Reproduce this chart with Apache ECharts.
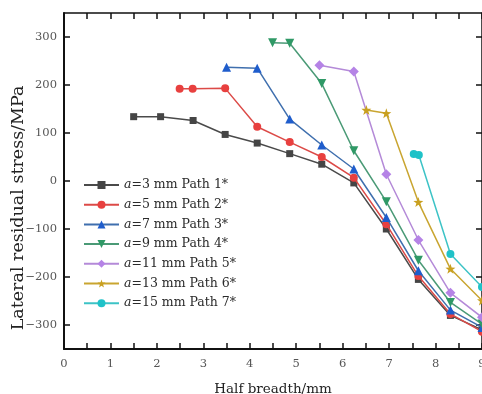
<!DOCTYPE html>
<html>
<head>
<meta charset="utf-8">
<script src="https://cdn.jsdelivr.net/npm/echarts@6/dist/echarts.min.js"></script>
<style>
  html, body { margin: 0; padding: 0; background: #ffffff; overflow: hidden; }
  #chart { width: 482px; height: 394px; }
</style>
</head>
<body>
<div id="chart"></div>
<script>
// Lateral residual stress along the half breadth, one path per groove depth a
const seriesNames = [
  'a=3 mm Path 1*', 'a=5 mm Path 2*', 'a=7 mm Path 3*', 'a=9 mm Path 4*',
  'a=11 mm Path 5*', 'a=13 mm Path 6*', 'a=15 mm Path 7*'
];

const path1X = [1.50, 2.08, 2.78, 3.47, 4.16, 4.86, 5.55, 6.24, 6.94, 7.63, 8.32, 9.00];
const path1Y = [134, 134, 126, 97, 79, 57, 35, -4, -100, -205, -280, -310];

const path2X = [2.49, 2.77, 3.47, 4.16, 4.86, 5.55, 6.24, 6.94, 7.63, 8.32, 9.00];
const path2Y = [192, 192, 193, 113, 81, 50, 7, -90, -198, -277, -314];

const path3X = [3.50, 4.16, 4.86, 5.55, 6.24, 6.94, 7.63, 8.32, 9.00];
const path3Y = [237, 235, 129, 75, 25, -76, -187, -269, -305];

const path4X = [4.49, 4.86, 5.55, 6.24, 6.94, 7.63, 8.32, 9.00];
const path4Y = [288, 287, 203, 63, -43, -165, -253, -298];

const path5X = [5.50, 6.24, 6.94, 7.63, 8.32, 9.00];
const path5Y = [241, 228, 14, -123, -233, -284];

const path6X = [6.51, 6.94, 7.63, 8.32, 9.00];
const path6Y = [148, 141, -44, -183, -249];

const path7X = [7.53, 7.64, 8.32, 9.00];
const path7Y = [56, 54, -152, -221];

const yTickValues = [-300, -200, -100, 0, 100, 200, 300];

const xsList = [path1X, path2X, path3X, path4X, path5X, path6X, path7X];
const ysList = [path1Y, path2Y, path3Y, path4Y, path5Y, path6Y, path7Y];

const starPath = 'path://M0,-10L2.35,-3.24L9.51,-3.09L3.8,1.24L5.88,8.09L0,4L-5.88,8.09L-3.8,1.24L-9.51,-3.09L-2.35,-3.24Z';

const styles = [
  { line: '#4a4a4a', mark: '#454545', symbol: 'rect', size: 7, rotate: 0 },
  { line: '#dc4a47', mark: '#e8403f', symbol: 'circle', size: 8, rotate: 0 },
  { line: '#3f6fae', mark: '#1f5dcc', symbol: 'triangle', size: 9, rotate: 0 },
  { line: '#4a9a76', mark: '#2f9966', symbol: 'triangle', size: 9, rotate: 180 },
  { line: '#b48ad8', mark: '#b583e6', symbol: 'diamond', size: 10, rotate: 0 },
  { line: '#c9a530', mark: '#c9a020', symbol: starPath, size: 10, rotate: 0 },
  { line: '#3cc3c6', mark: '#1fc2c8', symbol: 'circle', size: 8, rotate: 0 }
];

const FONT = 'DejaVu Serif';
const W = 482;

const series = seriesNames.map((name, i) => ({
  name: name,
  type: 'line',
  data: xsList[i].map((x, k) => [x, ysList[i][k]]),
  symbol: styles[i].symbol,
  symbolSize: styles[i].size,
  symbolRotate: styles[i].rotate,
  showAllSymbol: true,
  clip: false,
  lineStyle: { color: styles[i].line, width: 1.5 },
  itemStyle: { color: styles[i].mark },
  emphasis: { disabled: true },
  z: 3 + i
}));

const chart = echarts.init(document.getElementById('chart'), null, { renderer: 'canvas', width: W, height: 394 });

chart.setOption({
  animation: false,
  backgroundColor: '#ffffff',
  grid: { left: 64, right: 0, top: 13, bottom: 45, containLabel: false, outerBoundsMode: 'none' },
  legend: {
    left: 83,
    top: 178,
    padding: 0,
    orient: 'vertical',
    itemWidth: 35,
    itemHeight: 10,
    itemGap: 5.7,
    textStyle: {
      fontFamily: FONT, fontSize: 12.5, color: '#2a2a2a', lineHeight: 14,
      rich: {
        i: { fontFamily: FONT, fontSize: 12.5, fontStyle: 'italic', color: '#2a2a2a', lineHeight: 14 },
        n: { fontFamily: FONT, fontSize: 12.5, color: '#2a2a2a', lineHeight: 14 }
      }
    },
    formatter: function (name) {
      return '{i|a}{n|' + name.slice(1) + '}';
    },
    data: seriesNames
  },
  xAxis: [
    {
      type: 'value',
      min: 0, max: 9, interval: 0.5,
      position: 'bottom',
      name: 'Half breadth/mm',
      nameLocation: 'middle',
      nameGap: 33,
      nameTextStyle: { fontFamily: FONT, fontSize: 13.5, color: '#222' },
      axisLine: { show: true, onZero: false, lineStyle: { color: '#111', width: 2 } },
      axisTick: { show: true, inside: true, length: 6, lineStyle: { color: '#111', width: 1.5 } },
      axisLabel: {
        fontFamily: FONT, fontSize: 11.5, color: '#555', margin: 9,
        showMaxLabel: true,
        formatter: function (v) { return Number.isInteger(v) ? String(v) : ''; }
      },
      splitLine: { show: false }
    },
    {
      type: 'value',
      min: 0, max: 9, interval: 0.5,
      position: 'top',
      axisLine: { show: true, onZero: false, lineStyle: { color: '#111', width: 1.5 } },
      axisTick: { show: true, inside: true, length: 6, lineStyle: { color: '#111', width: 1.5 } },
      axisLabel: { show: false },
      splitLine: { show: false }
    }
  ],
  yAxis: [
    {
      type: 'value',
      min: -350, max: 350, interval: 50,
      position: 'left',
      axisLine: { show: true, onZero: false, lineStyle: { color: '#111', width: 2 } },
      axisTick: { show: true, inside: true, length: 6, customValues: yTickValues, lineStyle: { color: '#111', width: 1.5 } },
      axisLabel: {
        fontFamily: FONT, fontSize: 11.5, color: '#555', margin: 7,
        customValues: yTickValues,
        formatter: function (v) { return String(v).replace('-', '\u2212'); }
      },
      splitLine: { show: false }
    },
    {
      type: 'value',
      min: -350, max: 350, interval: 50,
      position: 'right',
      axisLine: { show: true, onZero: false, lineStyle: { color: '#111', width: 1.5 } },
      axisTick: { show: true, inside: true, length: 6, customValues: yTickValues, lineStyle: { color: '#111', width: 1.5 } },
      axisLabel: { show: false },
      splitLine: { show: false }
    }
  ],
  graphic: [
    {
      type: 'text',
      x: 18,
      y: 208,
      rotation: Math.PI / 2,
      style: {
        text: 'Lateral residual stress/MPa',
        font: '17.5px "DejaVu Serif"',
        fill: '#222',
        textAlign: 'center',
        textVerticalAlign: 'middle'
      }
    }
  ],
  series: series
});
</script>
</body>
</html>
